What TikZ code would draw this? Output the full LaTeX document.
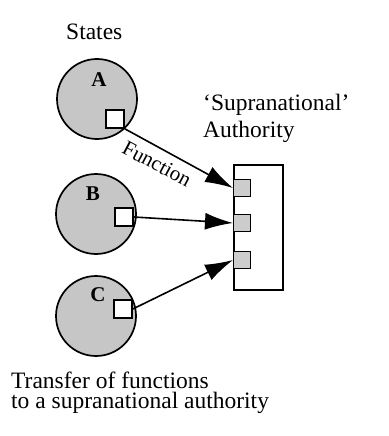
\documentclass[tikz,border=0pt]{standalone}
\usepackage{fontspec}
\setmainfont{Liberation Serif}
\usetikzlibrary{arrows.meta}
\begin{document}
\begin{tikzpicture}[x=1pt,y=-1pt,
  state/.style={circle,draw,line width=1.7pt,fill=gray!45,minimum size=80pt,inner sep=0pt},
  fbox/.style={draw,line width=1.6pt,fill=white,minimum size=18pt,inner sep=0pt},
  abox/.style={draw,line width=1.4pt,fill=gray!40,minimum size=17pt,inner sep=0pt},
  lbl/.style={font=\fontsize{21}{23}\selectfont\bfseries,inner sep=0pt},
  txt/.style={font=\fontsize{23.5}{26}\selectfont,inner sep=0pt,anchor=base west},
  arr/.style={line width=1.6pt,-{Latex[length=28pt,width=17pt]}}]
\useasboundingbox (0,0) rectangle (388,436);
\node[txt] (states) at (66,40) {States};
\node[state] (cA) at (97,99) {};
\node[state] (cB) at (96,214) {};
\node[state] (cC) at (96,316) {};
\node[lbl] (lA) at (99,80) {A};
\node[lbl] (lB) at (93,194) {B};
\node[lbl] (lC) at (98,295) {C};
\node[fbox] (fA) at (115,119) {};
\node[fbox] (fB) at (124,217) {};
\node[fbox] (fC) at (123,309) {};
\node[draw,line width=1.6pt,minimum width=49pt,minimum height=125pt,inner sep=0pt,anchor=north west] (auth) at (233,164) {};
\node[abox,anchor=west] (s1) at (233,188) {};
\node[abox,anchor=west] (s2) at (233,223) {};
\node[abox,anchor=west] (s3) at (233,260) {};
\node[txt] (sup) at (203,110) {`Supranational'};
\node[txt] (aut) at (203,137) {Authority};
\draw[arr] (fA.south east) -- (s1.west);
\draw[arr] (fB.east) -- (s2.west);
\draw[arr] (fC.east) -- (s3.west);
\node[font=\fontsize{21}{23}\selectfont,rotate=-28,inner sep=0pt] (fn) at (157,164) {Function};
\node[txt] (t1) at (11,388) {Transfer of functions};
\node[txt] (t2) at (11,408) {to a supranational authority};
\end{tikzpicture}
\end{document}
